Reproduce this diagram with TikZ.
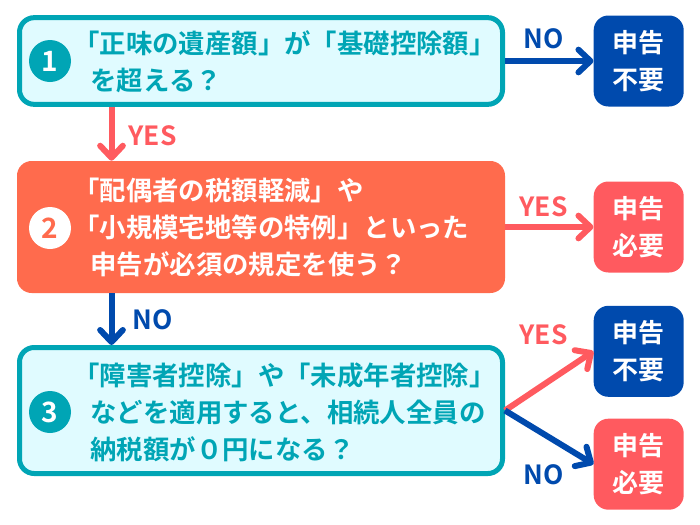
\documentclass[tikz,border=0pt]{standalone}
\usepackage{fontspec}
\setmainfont{Noto Sans CJK JP}[BoldFont={* Bold}]
\usepackage{tikz}
\usetikzlibrary{arrows.meta}
\definecolor{tealline}{HTML}{00A5B5}
\definecolor{tealfill}{HTML}{E0FBFF}
\definecolor{orangefill}{HTML}{FF6B4D}
\definecolor{redfill}{HTML}{FF5A5F}
\definecolor{bluefill}{HTML}{004AAD}

\begin{document}
\begin{tikzpicture}[x=0.75pt,y=-0.75pt]
	\tikzset{
		bigbox/.style={rounded corners=11pt,minimum width=362.25pt,inner sep=0pt},
		tealbox/.style={bigbox,draw=tealline,fill=tealfill,line width=3.75pt},
		orangebox/.style={bigbox,fill=orangefill,minimum width=366pt},
		endbox/.style={rounded corners=11pt,minimum width=67.5pt,minimum height=68.25pt,inner sep=0pt,text=white,align=center,font=\fontsize{19.5}{27.75}\selectfont\bfseries},
		badge/.style={circle,minimum size=31.5pt,inner sep=0pt,font=\fontsize{21}{21}\selectfont\bfseries},
		boxtext/.style={anchor=west,inner sep=0pt,align=left,font=\fontsize{19.8}{27.75}\selectfont\bfseries},
		answer/.style={inner sep=0pt,font=\fontsize{19.8}{19.8}\selectfont\bfseries},
		yesarrow/.style={draw=redfill,line width=4.5pt,-{Straight Barb[length=9pt,width=17pt,round]}},
		noarrow/.style={draw=bluefill,line width=4.5pt,-{Straight Barb[length=9pt,width=17pt,round]}}
	}
	\useasboundingbox (0,0) rectangle (700,525);

	% question boxes
	\node (box1) [tealbox,minimum height=65pt] at (261,61) {};
	\node (box2) [orangebox,minimum height=99pt] at (261,227) {};
	\node (box3) [tealbox,minimum height=94.5pt] at (261,410.5) {};

	\node (num1) [badge,fill=tealline,text=white] at (50,61) {1};
	\node (num2) [badge,fill=white,text=orangefill] at (50,228) {2};
	\node (num3) [badge,fill=tealline,text=white] at (50,412) {3};

	\node (text1) [boxtext,text=tealline] at (73,62) {「正味の遺産額」が「基礎控除額」\\\hspace*{13pt}を超える？};
	\node (text2) [boxtext,text=white] at (73,227.5) {「配偶者の税額軽減」や\\「小規模宅地等の特例」といった\\\hspace*{13pt}申告が必須の規定を使う？};
	\node (text3) [boxtext,text=tealline] at (73,412) {「障害者控除」や「未成年者控除」\\\hspace*{13pt}などを適用すると、相続人全員の\\\hspace*{13pt}納税額が０円になる？};

	% results
	\node (end1) [endbox,fill=bluefill] at (638.7,61) {申告\\不要};
	\node (end2) [endbox,fill=redfill] at (638.7,227) {申告\\必要};
	\node (end3) [endbox,fill=bluefill] at (638.7,351.3) {申告\\不要};
	\node (end4) [endbox,fill=redfill] at (638.7,464.2) {申告\\必要};

	% arrows
	\coordinate (down1) at (111.5,0);
	\coordinate (down2) at (111.5,0);
	\draw[yesarrow] (box1.south -| down1) -- (box2.north -| down1);
	\draw[noarrow] (box2.south -| down2) -- (box3.north -| down2);
	\draw[noarrow] (box1.east) -- (end1.west);
	\draw[yesarrow] (box2.east) -- (end2.west);
	\draw[yesarrow] (box3.east) -- (end3.west);
	\draw[noarrow] (box3.east) -- (end4.west);

	\node (yes1) [answer,text=redfill] at (152.5,136) {YES};
	\node (no1) [answer,text=bluefill] at (544,39) {NO};
	\node (yes2) [answer,text=redfill] at (543.5,207) {YES};
	\node (no2) [answer,text=bluefill] at (153,320) {NO};
	\node (yes3) [answer,text=redfill] at (543.5,335) {YES};
	\node (no3) [answer,text=bluefill] at (544,475) {NO};
\end{tikzpicture}
\end{document}
